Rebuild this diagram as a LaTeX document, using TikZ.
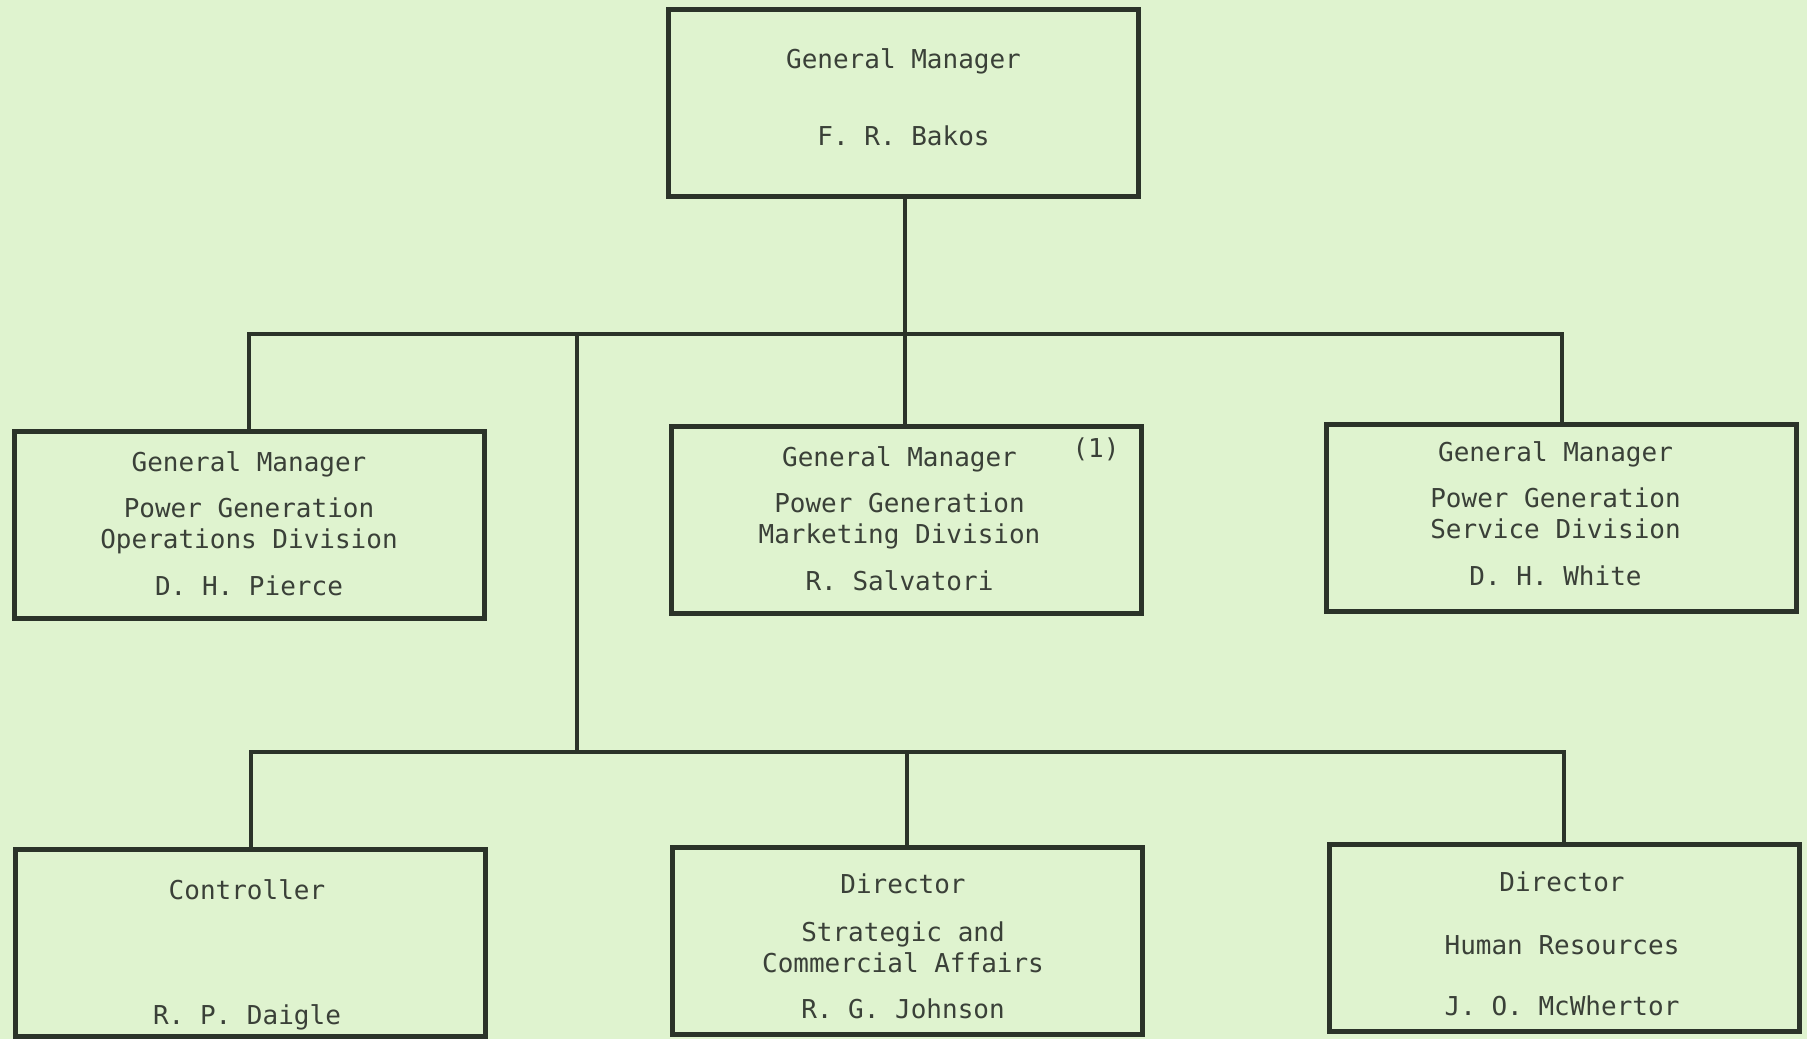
\documentclass[tikz,border=0pt]{standalone}
\usepackage{fontspec}
\newfontfamily\chartfont{DejaVu Sans Mono}
\definecolor{paper}{HTML}{DFF3CF}
\definecolor{ink}{HTML}{2B3329}
\definecolor{type}{HTML}{3A4038}

\begin{document}
\begin{tikzpicture}[x=0.5pt,y=-0.5pt,
    office/.style={draw=ink, line width=2.5pt, rectangle, inner sep=0pt,
        minimum width=235pt, minimum height=93.5pt},
    words/.style={inner sep=0pt, align=center, text=type,
        font=\chartfont\fontsize{13}{15.5}\selectfont},
    wire/.style={draw=ink, line width=2pt}]

    \useasboundingbox[fill=paper] (0,0) rectangle (1807,1039);

    % top
    \node[office] (gm) at (903.5,102.5) {};
    \node[words] (gm-t) at ([shift={(0,-5)}]gm.center) {General Manager\\[23pt]F. R. Bakos};

    % divisions
    \node[office] (ops) at (249,524.5) {};
    \node[office] (mkt) at (906.5,519.5) {};
    \node[office] (svc) at (1561.5,517.5) {};
    \node[words] (ops-t) at ([shift={(0,-1)}]ops.center) {General Manager\\[7.5pt]Power Generation\\Operations Division\\[8pt]D. H. Pierce};
    \node[words] (mkt-t) at ([shift={(-7,-1)}]mkt.center) {General Manager\\[7.5pt]Power Generation\\Marketing Division\\[8pt]R. Salvatori};
    \node[words] (svc-t) at ([shift={(-6,-4)}]svc.center) {General Manager\\[7.5pt]Power Generation\\Service Division\\[8pt]D. H. White};
    \node[words] (note) at (1096,449) {(1)};

    % staff
    \node[office] (ctl) at (250.5,943) {};
    \node[office] (sca) at (907,941) {};
    \node[office] (hr) at (1564,937.5) {};
    \node[words] (ctl-t) at ([shift={(-3.5,11.5)}]ctl.center) {Controller\\[47pt]R. P. Daigle};
    \node[words] (sca-t) at ([shift={(-4,5)}]sca.center) {Director\\[8.5pt]Strategic and\\Commercial Affairs\\[7.5pt]R. G. Johnson};
    \node[words] (hr-t) at ([shift={(-2,6)}]hr.center) {Director\\[16pt]Human Resources\\[15pt]J. O. McWhertor};

    \coordinate (bus) at (577,334);
    \coordinate (staff) at (577,752);

    \draw[wire] ([xshift=0.75pt]gm.south) -- ([xshift=0.75pt]gm.south |- bus);
    \draw[wire] (ops.north) |- (bus) -| (svc.north);
    \draw[wire] ([xshift=0.75pt]gm.south |- mkt.north) -- ([xshift=0.75pt]gm.south |- bus);
    \draw[wire] (bus) -- (staff);
    \draw[wire] (ctl.north) |- (staff) -| (hr.north);
    \draw[wire] (sca.north) -- (sca.north |- staff);

\end{tikzpicture}
\end{document}
